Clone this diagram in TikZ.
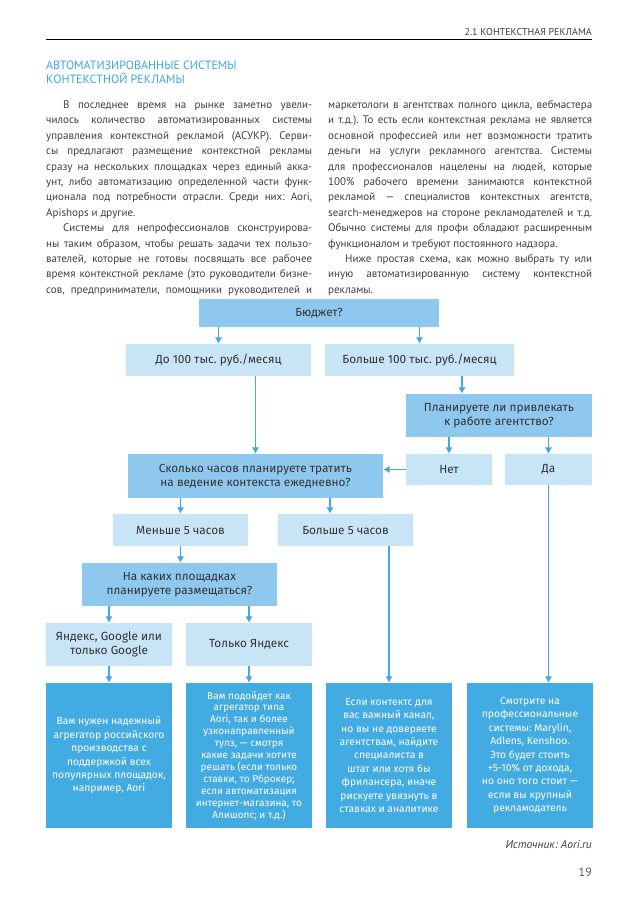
\documentclass[tikz,border=0pt]{standalone}
\usepackage{fontspec}
\usepackage{graphicx}
\setmainfont{PT Sans}
\newfontfamily\chartfont{Fira Sans}
\usetikzlibrary{arrows.meta}
\definecolor{midblue}{HTML}{8FC8EE}
\definecolor{lightblue}{HTML}{C8E4F7}
\definecolor{darkblue}{HTML}{41ABE2}
\definecolor{arrowblue}{HTML}{45A8DD}
\definecolor{titleblue}{HTML}{3DA8DE}
\definecolor{bodygrey}{HTML}{404040}
\frenchspacing
\begin{document}
\begin{tikzpicture}[x=1pt, y=-1pt,
    question/.style={fill=midblue, inner sep=0pt, align=center, text=black!80, font=\chartfont\fontsize{11.8}{14.5}\selectfont},
    answer/.style={fill=lightblue, inner sep=0pt, align=center, text=black!80, font=\chartfont\fontsize{11.8}{14.5}\selectfont},
    advice/.style={fill=darkblue, inner sep=0pt, align=center, text=white, minimum width=126pt, minimum height=145pt, font=\chartfont\fontsize{10.3}{13.4}\selectfont},
    arr/.style={-{Latex[length=6.5pt,width=7.5pt]}, line width=1.8pt, arrowblue}]
    \useasboundingbox (0,0) rectangle (638,903);
    \fill[white] (0,0) rectangle (638,903);

    \node[anchor=base east, inner sep=0pt, text=bodygrey, font=\fontsize{10}{10}\selectfont] (running) at (592,35) {2.1 КОНТЕКСТНАЯ РЕКЛАМА};
    \draw[line width=0.8pt] (46,39) -- (592,39);
    \node[anchor=base west, inner sep=0pt, text=titleblue, font=\fontsize{12}{14}\selectfont] (title) at (46,69) {\parbox[t]{250pt}{АВТОМАТИЗИРОВАННЫЕ СИСТЕМЫ\\КОНТЕКСТНОЙ РЕКЛАМЫ}};

    \node[anchor=base west, inner sep=0pt, text=bodygrey, font=\fontsize{11}{15.4}\selectfont] (colleft) at (46,108.5) {\parbox[t]{266pt}{\tolerance=10000\hbadness=10000
        \hspace*{17pt}В последнее время на рынке заметно увели-\linebreak
        чилось количество автоматизированных системы\linebreak
        управления контекстной рекламой (АСУКР). Серви-\linebreak
        сы предлагают размещение контекстной рекламы\linebreak
        сразу на нескольких площадках через единый акка-\linebreak
        унт, либо автоматизацию определенной части функ-\linebreak
        ционала под потребности отрасли. Среди них: Aori,\linebreak
        Apishops и другие.\par
        \hspace*{17pt}Системы для непрофессионалов сконструирова-\linebreak
        ны таким образом, чтобы решать задачи тех пользо-\linebreak
        вателей, которые не готовы посвящать все рабочее\linebreak
        время контекстной рекламе (это руководители бизне-\linebreak
        сов, предприниматели, помощники руководителей и\parfillskip=0pt\par}};
    \node[anchor=base west, inner sep=0pt, text=bodygrey, font=\fontsize{11}{15.4}\selectfont] (colright) at (328,108.5) {\parbox[t]{264pt}{\tolerance=10000\hbadness=10000
        маркетологи в агентствах полного цикла, вебмастера\linebreak
        и т.д.). То есть если контекстная реклама не является\linebreak
        основной профессией или нет возможности тратить\linebreak
        деньги на услуги рекламного агентства. Системы\linebreak
        для профессионалов нацелены на людей, которые\linebreak
        100\% рабочего времени занимаются контекстной\linebreak
        рекламой — специалистов контекстных агентств,\linebreak
        search-менеджеров на стороне рекламодателей и т.д.\linebreak
        Обычно системы для профи обладают расширенным\linebreak
        функционалом и требуют постоянного надзора.\par
        \hspace*{17pt}Ниже простая схема, как можно выбрать ту или\linebreak
        иную автоматизированную систему контекстной\linebreak
        рекламы.\par}};

    \node[question, minimum width=240pt, minimum height=28pt] (budget) at (319,313) {Бюджет?};
    \node[answer, minimum width=185pt, minimum height=32pt] (low) at (218.5,360) {До 100 тыс. руб./месяц};
    \node[answer, minimum width=189pt, minimum height=32pt] (high) at (419.5,360) {Больше 100 тыс. руб./месяц};
    \node[question, minimum width=186pt, minimum height=43pt] (agency) at (499,415.5) {Планируете ли привлекать\\к работе агентство?};
    \node[question, minimum width=255pt, minimum height=44pt] (hours) at (255.5,476) {Сколько часов планируете тратить\\на ведение контекста ежедневно?};
    \node[answer, minimum width=86pt, minimum height=31pt] (no) at (449,469.5) {Нет};
    \node[answer, minimum width=87pt, minimum height=31pt] (yes) at (548.5,469.5) {Да};
    \node[answer, minimum width=135pt, minimum height=32pt] (less) at (180.5,530) {Меньше 5 часов};
    \node[answer, minimum width=135pt, minimum height=32pt] (more) at (345.5,530) {Больше 5 часов};
    \node[question, minimum width=195pt, minimum height=43pt] (sites) at (179.5,584.5) {На каких площадках\\планируете размещаться?};
    \node[answer, minimum width=126pt, minimum height=43pt] (both) at (109,644.5) {Яндекс, Google или\\только Google};
    \node[answer, minimum width=126pt, minimum height=43pt] (yandex) at (249,644.5) {Только Яндекс};

    \node[advice] (aggregator) at (109,755.5) {Вам нужен надежный\\агрегатор российского\\производства с\\поддержкой всех\\популярных площадок,\\например, Aori};
    \node[advice, font=\chartfont\fontsize{10}{11.9}\selectfont] (narrow) at (249,755.5) {Вам подойдет как\\агрегатор типа\\Aori, так и более\\узконаправленный\\тулз, — смотря\\какие задачи хотите\\решать (если только\\ставки, то Рброкер;\\если автоматизация\\интернет-магазина, то\\Алишопс; и т.д.)};
    \node[advice] (specialist) at (389,755.5) {Если контектс для\\вас важный канал,\\но вы не доверяете\\агентствам, найдите\\специалиста в\\штат или хотя бы\\фрилансера, иначе\\рискуете увязнуть в\\ставках и аналитике};
    \node[advice] (pro) at (530,755.5) {Смотрите на\\профессиональные\\системы: Marylin,\\Adlens, Kenshoo.\\Это будет стоить\\+5-10\% от дохода,\\но оно того стоит —\\если вы крупный\\рекламодатель};

    \node[anchor=base east, inner sep=0pt, text=bodygrey, font=\fontsize{11.5}{13}\itshape] (source) at (592,848) {Источник: Aori.ru};
    \node[anchor=base east, inner sep=0pt, text=black!65, font=\fontsize{12}{14}\selectfont] (pagenum) at (592,876) {19};

    \draw[arr] (budget.south -| low.north) -- (low.north);
    \draw[arr] (budget.south -| high.north) -- (high.north);
    \draw[arr] ([xshift=42.5pt]high.south) -- ([xshift=42.5pt]high.south |- agency.north);
    \draw[arr] (low.south -| hours.north) -- (hours.north);
    \draw[arr] (agency.south -| no.north) -- (no.north);
    \draw[arr] (agency.south -| yes.north) -- (yes.north);
    \draw[arr] (no.west) -- (no.west -| hours.east);
    \draw[arr] (hours.south -| less.north) -- (less.north);
    \draw[arr] ([xshift=-15.5pt]more.north |- hours.south) -- ([xshift=-15.5pt]more.north);
    \draw[arr] (less.south) -- (less.south |- sites.north);
    \draw[arr] (sites.south -| both.north) -- (both.north);
    \draw[arr] (sites.south -| yandex.north) -- (yandex.north);
    \draw[arr] (both.south) -- (aggregator.north);
    \draw[arr] (yandex.south) -- (narrow.north);
    \draw[arr] (more.south -| specialist.north) -- (specialist.north);
    \draw[arr] (yes.south) -- (yes.south |- pro.north);
\end{tikzpicture}
\end{document}
